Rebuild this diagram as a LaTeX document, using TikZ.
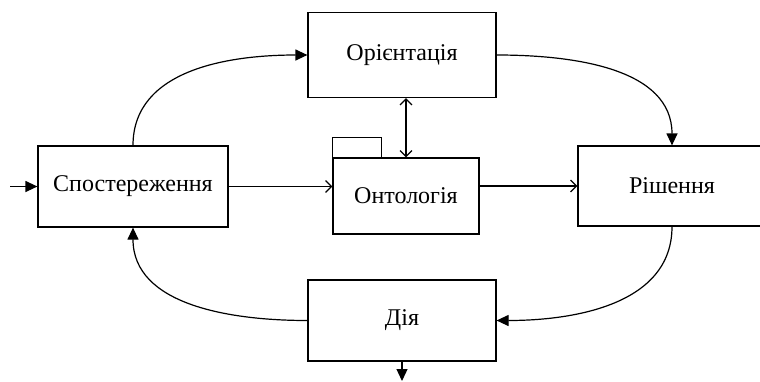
\documentclass[tikz,border=0pt]{standalone}
\usepackage{fontspec}
\setmainfont{Liberation Serif}
\usetikzlibrary{arrows.meta}

\begin{document}
\begin{tikzpicture}[x=1pt, y=-1pt, line width=1.2pt,
    box/.style={draw, inner sep=0pt, font=\fontsize{24}{28}\selectfont},
    flow/.style={-{Triangle[length=12pt,width=11pt]}},
    link/.style={-{Straight Barb[length=6pt,width=12pt]}}]

    \useasboundingbox (0, 0) rectangle (760, 381);

    % Blocks of the loop
    \node[box, minimum width=190pt, minimum height=81pt] (obs) at (133, 186.5) {Спостереження};
    \node[box, minimum width=188pt, minimum height=85pt] (orient) at (402, 55) {Орієнтація};
    \node[box, minimum width=146pt, minimum height=76pt] (onto) at (406, 196) {Онтологія};
    \node[box, minimum width=188pt, minimum height=80pt] (decide) at (672, 186) {Рішення};
    \node[box, minimum width=188pt, minimum height=81pt] (act) at (402, 320.5) {Дія};

    % Tab of the folder
    \draw (onto.north west) rectangle ++(49, -20);

    \coordinate (in) at (10, 186.5);
    \coordinate (out) at (402, 381);

    % Outer loop
    \draw[flow] (obs.north) to[out=90, in=180] (orient.west);
    \draw[flow] (orient.east) to[out=0, in=90] (decide.north);
    \draw[flow] (decide.south) to[out=-90, in=0] (act.east);
    \draw[flow] (act.west) to[out=180, in=-90] (obs.south);

    % Input and output
    \draw[flow] (in) -- (obs.west);
    \draw[flow] (act.south -| out) -- (out);

    % Links through the ontology
    \draw[link] (obs.east) -- (obs.east -| onto.west);
    \draw[link] (onto.east |- decide.west) -- (decide.west);
    \draw[link, {Straight Barb[length=6pt,width=12pt]}-{Straight Barb[length=6pt,width=12pt]}] (orient.south -| onto.north) -- (onto.north);

\end{tikzpicture}
\end{document}
